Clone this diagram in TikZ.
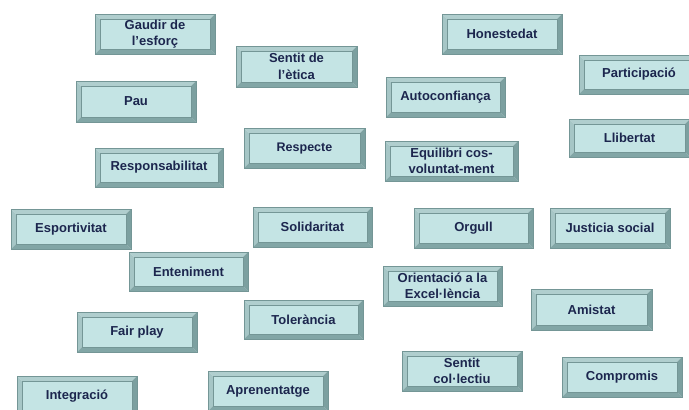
\documentclass[tikz,border=0pt]{standalone}
\usepackage{fontspec}
\setmainfont{Liberation Sans}
\usetikzlibrary{calc}
\definecolor{navy}{RGB}{28,38,78}
\definecolor{bvface}{RGB}{196,228,228}
\definecolor{bvtop}{RGB}{176,206,206}
\definecolor{bvleft}{RGB}{166,198,198}
\definecolor{bvbot}{RGB}{130,166,166}
\definecolor{bvright}{RGB}{124,160,160}
\definecolor{bvline}{RGB}{116,150,150}
\tikzset{
  vbox/.style={rectangle, minimum width=120pt, minimum height=40pt, inner sep=2pt,
    align=center, text=navy, font=\bfseries\fontsize{13}{16.5}\selectfont,
    draw=bvline, line width=0.6pt,
    path picture={
      \coordinate (q1) at (path picture bounding box.south west);
      \coordinate (q3) at (path picture bounding box.north east);
      \coordinate (q2) at (q1 -| q3);
      \coordinate (q4) at (q1 |- q3);
      \coordinate (r1) at ($(q1)+(5pt,5pt)$);
      \coordinate (r2) at ($(q2)+(-5pt,5pt)$);
      \coordinate (r3) at ($(q3)+(-5pt,-5pt)$);
      \coordinate (r4) at ($(q4)+(5pt,-5pt)$);
      \fill[bvtop] (q4)--(q3)--(r3)--(r4)--cycle;
      \fill[bvleft] (q1)--(q4)--(r4)--(r1)--cycle;
      \fill[bvbot] (q1)--(q2)--(r2)--(r1)--cycle;
      \fill[bvright] (q2)--(q3)--(r3)--(r2)--cycle;
      \fill[bvface] (r1) rectangle (r3);
      \draw[bvline, line width=0.3pt] (r1) rectangle (r3);
    }}
}
\begin{document}
\begin{tikzpicture}[x=1pt,y=-1pt]
\fill[white] (0,0) rectangle (689,410);
\path[use as bounding box] (0,0) rectangle (689,410);
\clip (0,0) rectangle (689,410);
\node[vbox] (gaudir) at (155,34) {Gaudir de\\l’esforç};
\node[vbox, minimum width=121pt, minimum height=41pt] (etica) at (296.5,66.5) {Sentit de\\l’ètica};
\node[vbox] (honest) at (502,34) {Honestedat};
\node[vbox, minimum height=39pt] (partic) at (639,74.5) {Participació};
\node[vbox, minimum height=41pt] (pau) at (136,101.5) {Pau};
\node[vbox, minimum width=119pt] (autoc) at (445.5,97) {Autoconfiança};
\node[vbox, minimum width=121pt, minimum height=38pt] (llib) at (629.5,138) {Llibertat};
\node[vbox, minimum width=121pt, font=\bfseries\fontsize{12.5}{15}\selectfont] (respec) at (304.5,148) {Respecte};
\node[vbox, minimum width=133pt] (equil) at (451.5,161) {Equilibri cos-\\voluntat-ment};
\node[vbox, minimum width=128pt, minimum height=39pt] (respon) at (159,167.5) {Responsabilitat};
\node[vbox] (esport) at (71,229) {Esportivitat};
\node[vbox, minimum width=119pt] (solid) at (312.5,227) {Solidaritat};
\node[vbox, minimum width=119pt] (orgull) at (473.5,228) {Orgull};
\node[vbox] (justic) at (610,228) {Justicia social};
\node[vbox, minimum width=119pt, minimum height=39pt] (entenim) at (188.5,271.5) {Enteniment};
\node[vbox, minimum width=119pt] (orient) at (442.5,286) {Orientació a la\\Excel·lència};
\node[vbox, minimum width=121pt, minimum height=41pt] (amistat) at (591.5,309.5) {Amistat};
\node[vbox] (fair) at (137,332) {Fair play};
\node[vbox, minimum width=119pt, minimum height=39pt] (toler) at (303.5,319.5) {Tolerància};
\node[vbox] (sentcol) at (462,371) {Sentit\\col·lectiu};
\node[vbox] (compr) at (622,377) {Compromis};
\node[vbox] (integr) at (77,396) {Integració};
\node[vbox] (apren) at (268,391) {Aprenentatge};
\end{tikzpicture}
\end{document}
